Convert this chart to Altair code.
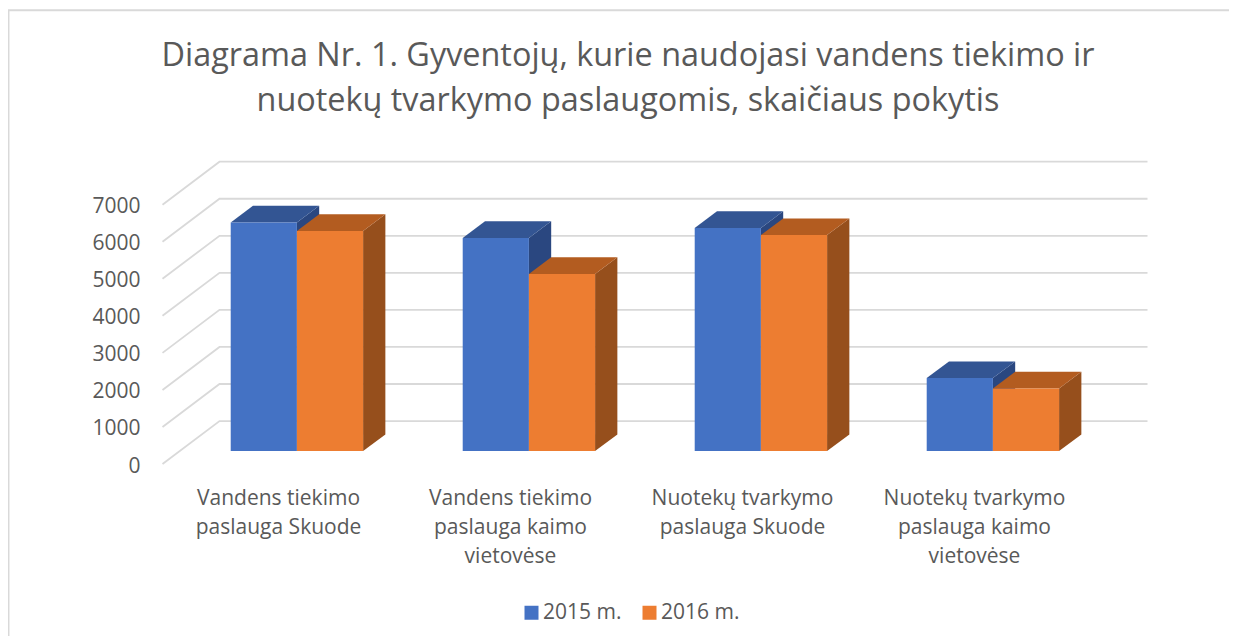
import altair as alt
import pandas as pd

title_lines = ["Diagrama Nr. 1. Gyventojų, kurie naudojasi vandens tiekimo ir",
               "nuotekų tvarkymo paslaugomis, skaičiaus pokytis"]
categories = ["Vandens tiekimo\npaslauga Skuode",
              "Vandens tiekimo\npaslauga kaimo\nvietovėse",
              "Nuotekų tvarkymo\npaslauga Skuode",
              "Nuotekų tvarkymo\npaslauga kaimo\nvietovėse"]
series = ["2015 m.", "2016 m."]
values_2015 = [6170, 5750, 6020, 1970]
values_2016 = [5940, 4780, 5830, 1690]
ticks = [0, 1000, 2000, 3000, 4000, 5000, 6000, 7000]

FRONT = ["#4472C4", "#ED7D31"]
TOP = ["#335593", "#B35C20"]
SIDE = ["#2A4780", "#964F1C"]
TEXT = "#595959"
GRID = "#D9D9D9"
FONT = "Open Sans"

# projection of the 3-D box, in category units (x) and value units (y)
WALL_DX, WALL_DY = 0.2457, 1160
BASE_X, BASE_Y = 0.294, 351
BAR_W = 0.2853
DEPTH_DX, DEPTH_DY = 0.096, 448

W, H = 1221, 628
x_scale = alt.Scale(domain=[-0.666, 4.597], range=[0, W], nice=False, zero=False)
y_scale = alt.Scale(domain=[-4642, 12308], range=[H, 0], nice=False, zero=False)
AXIS = alt.Axis(values=ticks, grid=False, domain=False, ticks=False, offset=-132,
                labelPadding=0, labelFont=FONT, labelFontSize=21, labelColor=TEXT,
                labelOverlap=False, format="d", labelOffset=2)
X = alt.X("x:Q", scale=x_scale, axis=None)
Y = alt.Y("y:Q", scale=y_scale, title=None, axis=AXIS)
Y_AREA = alt.Y("y:Q", scale=y_scale, title=None, stack=None, axis=AXIS)

grid_rows = []
for v in ticks:
    for x, y in [(0, v), (WALL_DX, v + WALL_DY), (4 + WALL_DX, v + WALL_DY)]:
        grid_rows.append({"x": x, "y": y, "line": v})
grid = alt.Chart(pd.DataFrame(grid_rows)).mark_line(color=GRID, strokeWidth=1.8).encode(
    x=X, y=Y, detail="line:N", order=alt.Order("x:Q"))

frame = alt.Chart(pd.DataFrame({"x": [-0.664, -0.664, 4.597],
                                "y": [-4642, 12245, 12245],
                                "o": [0, 1, 2]})).mark_line(color=GRID, strokeWidth=2).encode(
    x=X, y=Y, order=alt.Order("o:Q"))

front_rows, side_rows, top_rows = [], [], []
for s, vals in enumerate([values_2015, values_2016]):
    for c, v in enumerate(vals):
        x0 = c + BASE_X + s * BAR_W
        x1 = x0 + BAR_W
        y0 = BASE_Y
        y1 = BASE_Y + v
        name = series[s]
        front_rows.append({"x": x0, "x2": x1, "y": y0, "y2": y1, "series": name})
        face = f"f{s}{c}"
        side_rows += [{"x": x1, "y": y1, "y2": y0, "series": name, "face": face},
                      {"x": x1 + DEPTH_DX, "y": y1 + DEPTH_DY, "y2": y0 + DEPTH_DY,
                       "series": name, "face": face}]
        top_rows += [{"x": x0, "y": y1, "y2": y1, "series": name, "face": face},
                     {"x": x0 + DEPTH_DX, "y": y1 + DEPTH_DY, "y2": y1, "series": name, "face": face},
                     {"x": x1, "y": y1 + DEPTH_DY, "y2": y1, "series": name, "face": face},
                     {"x": x1 + DEPTH_DX, "y": y1 + DEPTH_DY, "y2": y1 + DEPTH_DY,
                      "series": name, "face": face}]

sides = alt.Chart(pd.DataFrame(side_rows)).mark_area(orient="vertical").encode(
    x=X, y=Y_AREA, y2=alt.Y2("y2:Q"), detail="face:N",
    color=alt.Color("series:N", scale=alt.Scale(domain=series, range=SIDE), legend=None))
tops = alt.Chart(pd.DataFrame(top_rows)).mark_area(orient="vertical").encode(
    x=X, y=Y_AREA, y2=alt.Y2("y2:Q"), detail="face:N",
    color=alt.Color("series:N", scale=alt.Scale(domain=series, range=TOP), legend=None))
fronts = alt.Chart(pd.DataFrame(front_rows)).mark_rect().encode(
    x=X, x2=alt.X2("x2:Q"), y=Y, y2=alt.Y2("y2:Q"),
    color=alt.Color("series:N", scale=alt.Scale(domain=series, range=FRONT),
                    legend=alt.Legend(title=None, orient="none", legendX=513, legendY=594,
                                      direction="horizontal", symbolType="square", symbolSize=196,
                                      symbolStrokeWidth=0, labelFont=FONT, labelFontSize=21,
                                      labelColor=TEXT, columnPadding=17, labelOffset=1,
                                      symbolOpacity=1)))

labels = alt.Chart(pd.DataFrame({"x": [c + 0.5 for c in range(4)],
                                 "y": [-640] * 4,
                                 "label": categories})).mark_text(
    font=FONT, fontSize=21, color=TEXT, align="center", baseline="top",
    lineBreak="\n", lineHeight=29.2).encode(x=X, y=Y, text="label:N")

chart = alt.layer(frame, grid, sides, tops, fronts, labels).resolve_scale(color="independent").properties(
    width=W, height=H, padding=0, background="white",
    autosize=alt.AutoSizeParams(type="none"),
    title=alt.TitleParams(text=title_lines, font=FONT, fontSize=32.4, fontWeight="normal", color=TEXT,
                          anchor="middle", align="center", baseline="top", lineHeight=45,
                          offset=-111.5, dx=9.5, dy=0)
).configure_view(stroke=None)

chart.save("out.html", embed_options={"renderer": "svg", "actions": False})
